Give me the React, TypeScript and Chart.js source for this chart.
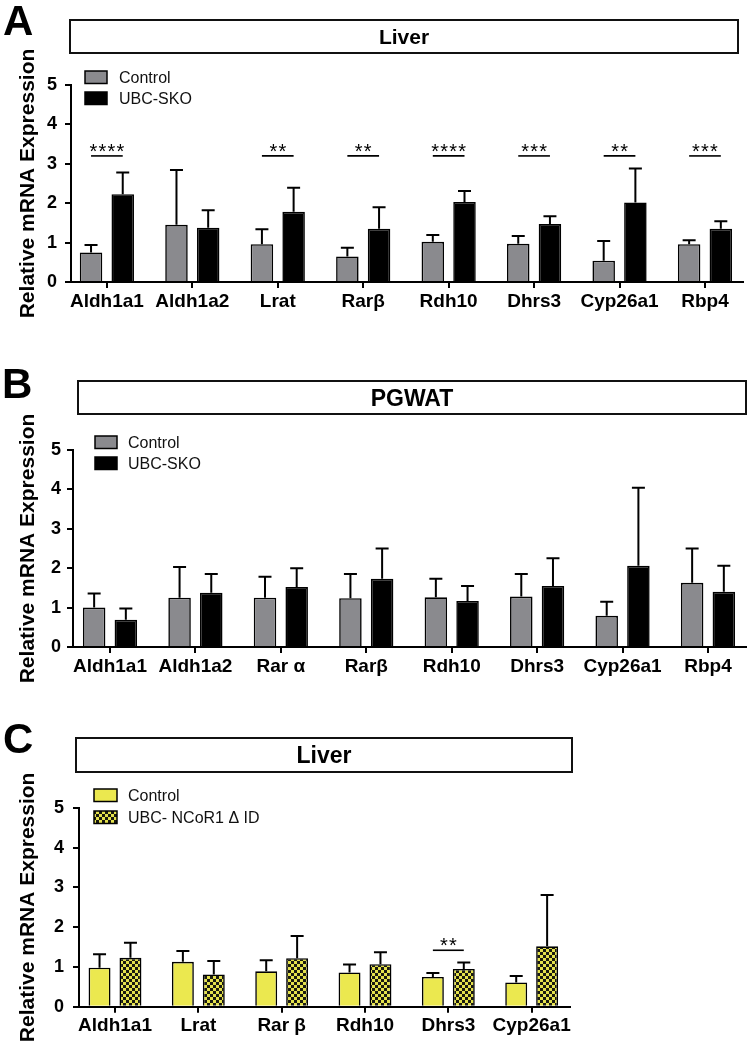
import React, { useEffect, useRef } from 'react';
import { Chart, registerables } from 'chart.js';

Chart.register(...registerables);

const FONT = "'Liberation Sans', Arial, Helvetica, sans-serif";

// ---------- Panel A: Liver (Control vs UBC-SKO) ----------
const catsA = ['Aldh1a1', 'Aldh1a2', 'Lrat', 'Rarβ', 'Rdh10', 'Dhrs3', 'Cyp26a1', 'Rbp4'];
const ctrlA = [0.75, 1.45, 0.96, 0.65, 1.02, 0.97, 0.54, 0.96];
const ctrlErrA = [0.19, 1.39, 0.38, 0.22, 0.17, 0.2, 0.5, 0.1];
const skoA = [2.23, 1.38, 1.78, 1.35, 2.03, 1.47, 2.02, 1.35];
const skoErrA = [0.55, 0.44, 0.61, 0.55, 0.28, 0.2, 0.86, 0.19];
const sigA = ['****', '', '**', '**', '****', '***', '**', '***'];
const sigLevelA = 3.2;

// ---------- Panel B: PGWAT (Control vs UBC-SKO) ----------
const catsB = ['Aldh1a1', 'Aldh1a2', 'Rar α', 'Rarβ', 'Rdh10', 'Dhrs3', 'Cyp26a1', 'Rbp4'];
const ctrlB = [1.0, 1.25, 1.25, 1.24, 1.26, 1.28, 0.79, 1.63];
const ctrlErrB = [0.36, 0.78, 0.53, 0.61, 0.47, 0.57, 0.36, 0.87];
const skoB = [0.69, 1.38, 1.52, 1.73, 1.17, 1.55, 2.06, 1.4];
const skoErrB = [0.29, 0.47, 0.48, 0.77, 0.38, 0.7, 1.98, 0.66];
const sigB = ['', '', '', '', '', '', '', ''];
const sigLevelB = 3.2;

// ---------- Panel C: Liver (Control vs UBC-NCoR1ΔID) ----------
const catsC = ['Aldh1a1', 'Lrat', 'Rar β', 'Rdh10', 'Dhrs3', 'Cyp26a1'];
const ctrlC = [0.98, 1.13, 0.89, 0.86, 0.75, 0.61];
const ctrlErrC = [0.34, 0.27, 0.28, 0.2, 0.1, 0.16];
const ncorC = [1.23, 0.81, 1.22, 1.07, 0.95, 1.52];
const ncorErrC = [0.38, 0.34, 0.56, 0.3, 0.16, 1.29];
const sigC = ['', '', '', '', '**', ''];
const sigLevelC = 1.42;

const yTicks = [0, 1, 2, 3, 4, 5];

const GRAY = '#8a8a8e';
const YELLOW = '#ebe84f';

type Series = { label: string; values: number[]; errors: number[]; fill: string };
type Panel = {
  top: number;
  height: number;
  area: { l: number; r: number; t: number; b: number };
  xMin: number;
  xMax: number;
  cats: string[];
  series: Series[];
  sig: string[];
  sigLevel: number;
  title: { text: string; x1: number; y1: number; x2: number; y2: number; size: number };
  letter: { text: string; x: number; base: number };
  legend: { x: number; tops: number[]; w: number; h: number; textX: number };
  yPad: number;
};

const panels: Panel[] = [
  {
    top: 0,
    height: 340,
    area: { l: 71, r: 743, t: 85, b: 282 },
    xMin: -0.42,
    xMax: 7.445,
    cats: catsA,
    series: [
      { label: 'Control', values: ctrlA, errors: ctrlErrA, fill: GRAY },
      { label: 'UBC-SKO', values: skoA, errors: skoErrA, fill: '#000000' },
    ],
    sig: sigA,
    sigLevel: sigLevelA,
    title: { text: 'Liver', x1: 70, y1: 20, x2: 738, y2: 53, size: 21 },
    letter: { text: 'A', x: 3, base: 35 },
    legend: { x: 85, tops: [71, 92], w: 22, h: 12.5, textX: 119 },
    yPad: 8,
  },
  {
    top: 340,
    height: 345,
    area: { l: 73, r: 746, t: 450, b: 647 },
    xMin: -0.433,
    xMax: 7.445,
    cats: catsB,
    series: [
      { label: 'Control', values: ctrlB, errors: ctrlErrB, fill: GRAY },
      { label: 'UBC-SKO', values: skoB, errors: skoErrB, fill: '#000000' },
    ],
    sig: sigB,
    sigLevel: sigLevelB,
    title: { text: 'PGWAT', x1: 78, y1: 381, x2: 746, y2: 414, size: 23 },
    letter: { text: 'B', x: 2, base: 398 },
    legend: { x: 95, tops: [436, 457], w: 22, h: 12.5, textX: 128 },
    yPad: 6,
  },
  {
    top: 685,
    height: 356,
    area: { l: 79, r: 570, t: 808, b: 1006.7 },
    xMin: -0.432,
    xMax: 5.46,
    cats: catsC,
    series: [
      { label: 'Control', values: ctrlC, errors: ctrlErrC, fill: YELLOW },
      { label: 'UBC- NCoR1 Δ ID', values: ncorC, errors: ncorErrC, fill: 'checker' },
    ],
    sig: sigC,
    sigLevel: sigLevelC,
    title: { text: 'Liver', x1: 76, y1: 738, x2: 572, y2: 772, size: 23 },
    letter: { text: 'C', x: 3, base: 753 },
    legend: { x: 94, tops: [789, 811], w: 23, h: 12.5, textX: 128 },
    yPad: 9,
  },
];

function makeChecker(): CanvasPattern | string {
  const c = document.createElement('canvas');
  c.width = 6;
  c.height = 6;
  const g = c.getContext('2d');
  if (!g) return YELLOW;
  g.fillStyle = '#1a1a10';
  g.fillRect(0, 0, 6, 6);
  g.fillStyle = '#e4e14c';
  g.fillRect(0, 0, 3, 3);
  g.fillRect(3, 3, 3, 3);
  const p = g.createPattern(c, 'repeat');
  return p || YELLOW;
}

function buildChart(canvas: HTMLCanvasElement, p: Panel): Chart {
  const off = p.top;
  const checker = makeChecker();
  const fills = p.series.map((s) => (s.fill === 'checker' ? checker : s.fill));

  const datasets: any[] = p.series.map((s, si) => ({
    label: s.label,
    data: s.values.map((v, i) => ({ x: i, y: v })),
    errors: s.errors,
    backgroundColor: fills[si],
    borderColor: '#000',
    borderWidth: 1.6,
    categoryPercentage: 0.742,
    barPercentage: 0.71,
  }));

  const overlay = {
    id: 'overlay' + p.letter.text,
    afterDatasetsDraw(chart: any) {
      const ctx: CanvasRenderingContext2D = chart.ctx;
      const yScale = chart.scales.y;
      ctx.save();
      // error bars
      chart.data.datasets.forEach((ds: any, di: number) => {
        const meta = chart.getDatasetMeta(di);
        meta.data.forEach((bar: any, i: number) => {
          const v = ds.data[i].y;
          const e = ds.errors[i];
          const yTop = yScale.getPixelForValue(v);
          const yErr = yScale.getPixelForValue(v + e);
          ctx.strokeStyle = '#000';
          ctx.lineWidth = 2;
          ctx.beginPath();
          ctx.moveTo(bar.x, yTop);
          ctx.lineTo(bar.x, yErr);
          ctx.moveTo(bar.x - 6.5, yErr);
          ctx.lineTo(bar.x + 6.5, yErr);
          ctx.stroke();
        });
      });
      // significance marks
      const m0 = chart.getDatasetMeta(0);
      const m1 = chart.getDatasetMeta(1);
      p.sig.forEach((s, i) => {
        if (!s) return;
        const x1 = m0.data[i].x;
        const x2 = m1.data[i].x;
        const y = yScale.getPixelForValue(p.sigLevel);
        ctx.strokeStyle = '#000';
        ctx.lineWidth = 1.6;
        ctx.beginPath();
        ctx.moveTo(x1, y);
        ctx.lineTo(x2, y);
        ctx.stroke();
        ctx.fillStyle = '#000';
        ctx.font = `20px ${FONT}`;
        ctx.textAlign = 'center';
        ctx.textBaseline = 'alphabetic';
        const step = 9;
        const cx = (x1 + x2) / 2;
        const n = s.length;
        for (let k = 0; k < n; k++) {
          ctx.fillText(s[k], cx + (k - (n - 1) / 2) * step, y + 2);
        }
      });
      ctx.restore();
    },
    afterDraw(chart: any) {
      const ctx: CanvasRenderingContext2D = chart.ctx;
      ctx.save();
      // panel letter
      ctx.fillStyle = '#000';
      ctx.font = `bold 42px ${FONT}`;
      ctx.textAlign = 'left';
      ctx.textBaseline = 'alphabetic';
      ctx.fillText(p.letter.text, p.letter.x, p.letter.base - off);
      // title box
      const t = p.title;
      ctx.strokeStyle = '#111';
      ctx.lineWidth = 2;
      ctx.strokeRect(t.x1, t.y1 - off, t.x2 - t.x1, t.y2 - t.y1);
      ctx.font = `bold ${t.size}px ${FONT}`;
      ctx.textAlign = 'center';
      const cy = (t.y1 + t.y2) / 2 - off;
      ctx.fillText(t.text, (t.x1 + t.x2) / 2, cy + t.size * 0.358);
      // legend
      const lg = p.legend;
      p.series.forEach((s, si) => {
        const by = lg.tops[si] - off;
        ctx.fillStyle = fills[si] as any;
        ctx.fillRect(lg.x, by, lg.w, lg.h);
        ctx.strokeStyle = '#000';
        ctx.lineWidth = 1.5;
        ctx.strokeRect(lg.x, by, lg.w, lg.h);
        ctx.fillStyle = '#111';
        ctx.font = `16px ${FONT}`;
        ctx.textAlign = 'left';
        ctx.textBaseline = 'alphabetic';
        ctx.fillText(s.label, lg.textX, by + lg.h / 2 + 16 * 0.358);
      });
      ctx.restore();
    },
  };

  const yWidth = p.area.l;
  const xHeight = p.top + p.height - p.area.b;

  return new Chart(canvas, {
    type: 'bar',
    data: { datasets },
    options: {
      animation: false,
      responsive: false,
      maintainAspectRatio: false,
      devicePixelRatio: 1,
      layout: {
        padding: { left: 0, right: 750 - p.area.r, top: p.area.t - off, bottom: 0 },
      },
      plugins: {
        legend: { display: false },
        tooltip: { enabled: false },
        title: { display: false },
      },
      scales: {
        x: {
          type: 'linear',
          min: p.xMin,
          max: p.xMax,
          offset: false,
          afterBuildTicks: (scale: any) => {
            scale.ticks = p.cats.map((_, i) => ({ value: i }));
          },
          afterFit: (scale: any) => {
            scale.height = xHeight;
          },
          ticks: {
            autoSkip: false,
            maxRotation: 0,
            minRotation: 0,
            padding: 2,
            color: '#000',
            font: { family: FONT, size: 19, weight: 'bold' },
            callback: (v: any) => {
              const idx = Math.round(Number(v));
              return p.cats[idx] ?? '';
            },
          },
          grid: {
            display: true,
            offset: false,
            drawOnChartArea: false,
            drawTicks: true,
            tickLength: 6,
            color: '#000',
            lineWidth: 2,
          },
          border: { display: true, color: '#000', width: 2 },
        },
        y: {
          type: 'linear',
          min: 0,
          max: 5,
          afterBuildTicks: (scale: any) => {
            scale.ticks = yTicks.map((v) => ({ value: v }));
          },
          afterFit: (scale: any) => {
            scale.width = yWidth;
          },
          ticks: {
            padding: p.yPad,
            color: '#000',
            font: { family: FONT, size: 18, weight: 'bold' },
          },
          grid: {
            display: true,
            drawOnChartArea: false,
            drawTicks: true,
            tickLength: 6,
            color: '#000',
            lineWidth: 2,
          },
          border: { display: true, color: '#000', width: 2 },
          title: {
            display: true,
            text: 'Relative mRNA Expression',
            color: '#000',
            font: { family: FONT, size: 21, weight: 'bold' },
            padding: { top: 16, bottom: 0 },
          },
        },
      },
    } as any,
    plugins: [overlay as any],
  });
}

function PanelCanvas({ panel }: { panel: Panel }) {
  const ref = useRef<HTMLCanvasElement | null>(null);
  useEffect(() => {
    if (!ref.current) return;
    const chart = buildChart(ref.current, panel);
    return () => chart.destroy();
  }, [panel]);
  return (
    <canvas
      ref={ref}
      width={750}
      height={panel.height}
      style={{ position: 'absolute', left: 0, top: panel.top, width: 750, height: panel.height }}
    />
  );
}

export default function App() {
  return (
    <div
      style={{
        position: 'absolute',
        left: 0,
        top: 0,
        width: 750,
        height: 1041,
        background: '#fff',
        overflow: 'hidden',
      }}
    >
      {panels.map((p) => (
        <PanelCanvas key={p.letter.text} panel={p} />
      ))}
    </div>
  );
}
